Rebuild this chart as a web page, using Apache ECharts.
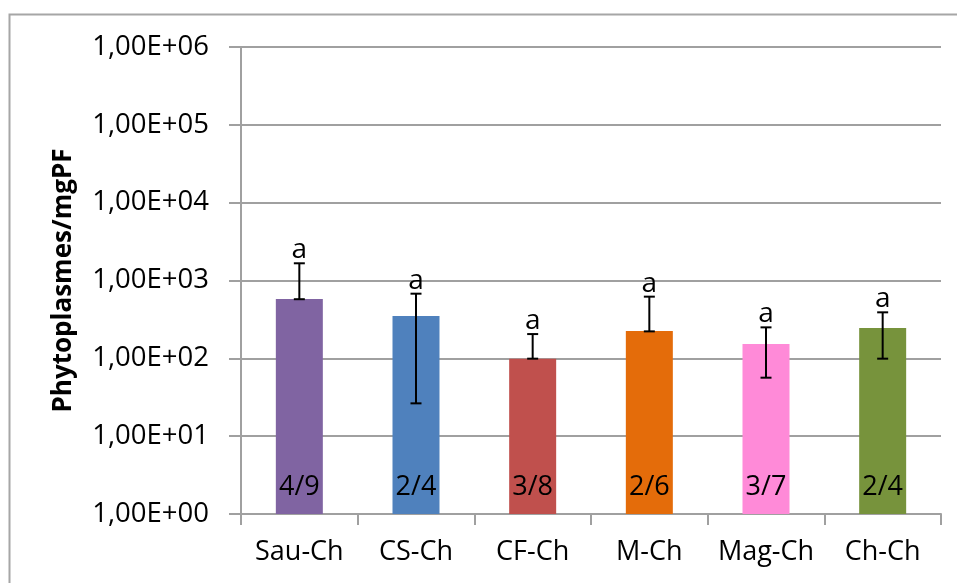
<!DOCTYPE html>
<html>
<head>
<meta charset="utf-8">
<script src="https://cdn.jsdelivr.net/npm/echarts@6/dist/echarts.min.js"></script>
<style>
html,body{margin:0;padding:0;background:#fff;}
#c{width:957px;height:583px;}
</style>
</head>
<body>
<div id="c"></div>
<script>
const categories = ['Sau-Ch', 'CS-Ch', 'CF-Ch', 'M-Ch', 'Mag-Ch', 'Ch-Ch'];
const values = [578, 350, 99, 224, 153, 245];
const errLow = [575, 26.4, 99, 222, 56.4, 99];
const errHigh = [1664, 677, 205, 620, 250, 390];
const ratios = ['4/9', '2/4', '3/8', '2/6', '3/7', '2/4'];
const letters = ['a', 'a', 'a', 'a', 'a', 'a'];
const colors = ['#8064A2', '#4F81BD', '#C0504D', '#E46C0A', '#FF8AD8', '#77933C'];
const yTitle = 'Phytoplasmes/mgPF';

const FONT = '"Open Sans", "Noto Sans", sans-serif';
const chart = echarts.init(document.getElementById('c'), null, {renderer: 'canvas'});

const errData = categories.map((c, i) => [i, errLow[i], errHigh[i], letters[i]]);

chart.setOption({
  animation: false,
  backgroundColor: '#fff',
  graphic: [{
    type: 'rect', shape: {x: 9.5, y: 14.5, width: 1000, height: 1000},
    style: {fill: 'none', stroke: '#a6a6a6', lineWidth: 2}, silent: true, z: -10
  }],
  grid: {left: 241, right: 16, top: 47, bottom: 69, containLabel: false},
  xAxis: {
    type: 'category',
    data: categories,
    axisLine: {lineStyle: {color: '#a0a0a0', width: 2}},
    axisTick: {show: true, interval: 0, length: 11, lineStyle: {color: '#a0a0a0', width: 2}},
    axisLabel: {color: '#000', fontFamily: FONT, fontSize: 27, margin: 25, interval: 0, hideOverlap: false}
  },
  yAxis: {
    type: 'log',
    logBase: 10,
    min: 1,
    max: 1000000,
    interval: 1,
    name: yTitle,
    nameLocation: 'middle',
    nameRotate: 90,
    nameGap: 164,
    nameTextStyle: {color: '#000', fontFamily: FONT, fontSize: 26, fontWeight: 'bold'},
    axisLine: {show: true, lineStyle: {color: '#a0a0a0', width: 2}},
    axisTick: {show: true, length: 12, lineStyle: {color: '#a0a0a0', width: 2}},
    axisLabel: {
      color: '#000', fontFamily: FONT, fontSize: 27.5, margin: 32,
      formatter: function (v) {
        const e = Math.round(Math.log10(v));
        return '1,00E+' + (e < 10 ? '0' + e : e);
      }
    },
    splitLine: {show: true, lineStyle: {color: '#a0a0a0', width: 2}}
  },
  series: [{
    type: 'bar',
    barWidth: 47,
    data: values.map((v, i) => ({value: v, itemStyle: {color: colors[i]}})),
    label: {
      show: true,
      position: 'insideBottom',
      distance: 13,
      formatter: function (p) { return ratios[p.dataIndex]; },
      color: '#000',
      fontFamily: FONT,
      fontSize: 27
    },
    z: 2
  }, {
    type: 'custom',
    data: errData,
    z: 5,
    renderItem: function (params, api) {
      const x = api.value(0);
      const lo = api.coord([x, api.value(1)]);
      const hi = api.coord([x, api.value(2)]);
      const cx = lo[0];
      const hw = 5.5;
      const st = {stroke: '#000', lineWidth: 2};
      return {
        type: 'group',
        children: [
          {type: 'line', shape: {x1: cx, y1: lo[1], x2: cx, y2: hi[1]}, style: st},
          {type: 'line', shape: {x1: cx - hw, y1: lo[1], x2: cx + hw, y2: lo[1]}, style: st},
          {type: 'line', shape: {x1: cx - hw, y1: hi[1], x2: cx + hw, y2: hi[1]}, style: st},
          {type: 'text', x: cx, y: hi[1] + 1,
           style: {text: letters[params.dataIndex], fill: '#000', font: '28px ' + FONT,
                   textAlign: 'center', textVerticalAlign: 'bottom'}}
        ]
      };
    }
  }]
});
</script>
</body>
</html>
